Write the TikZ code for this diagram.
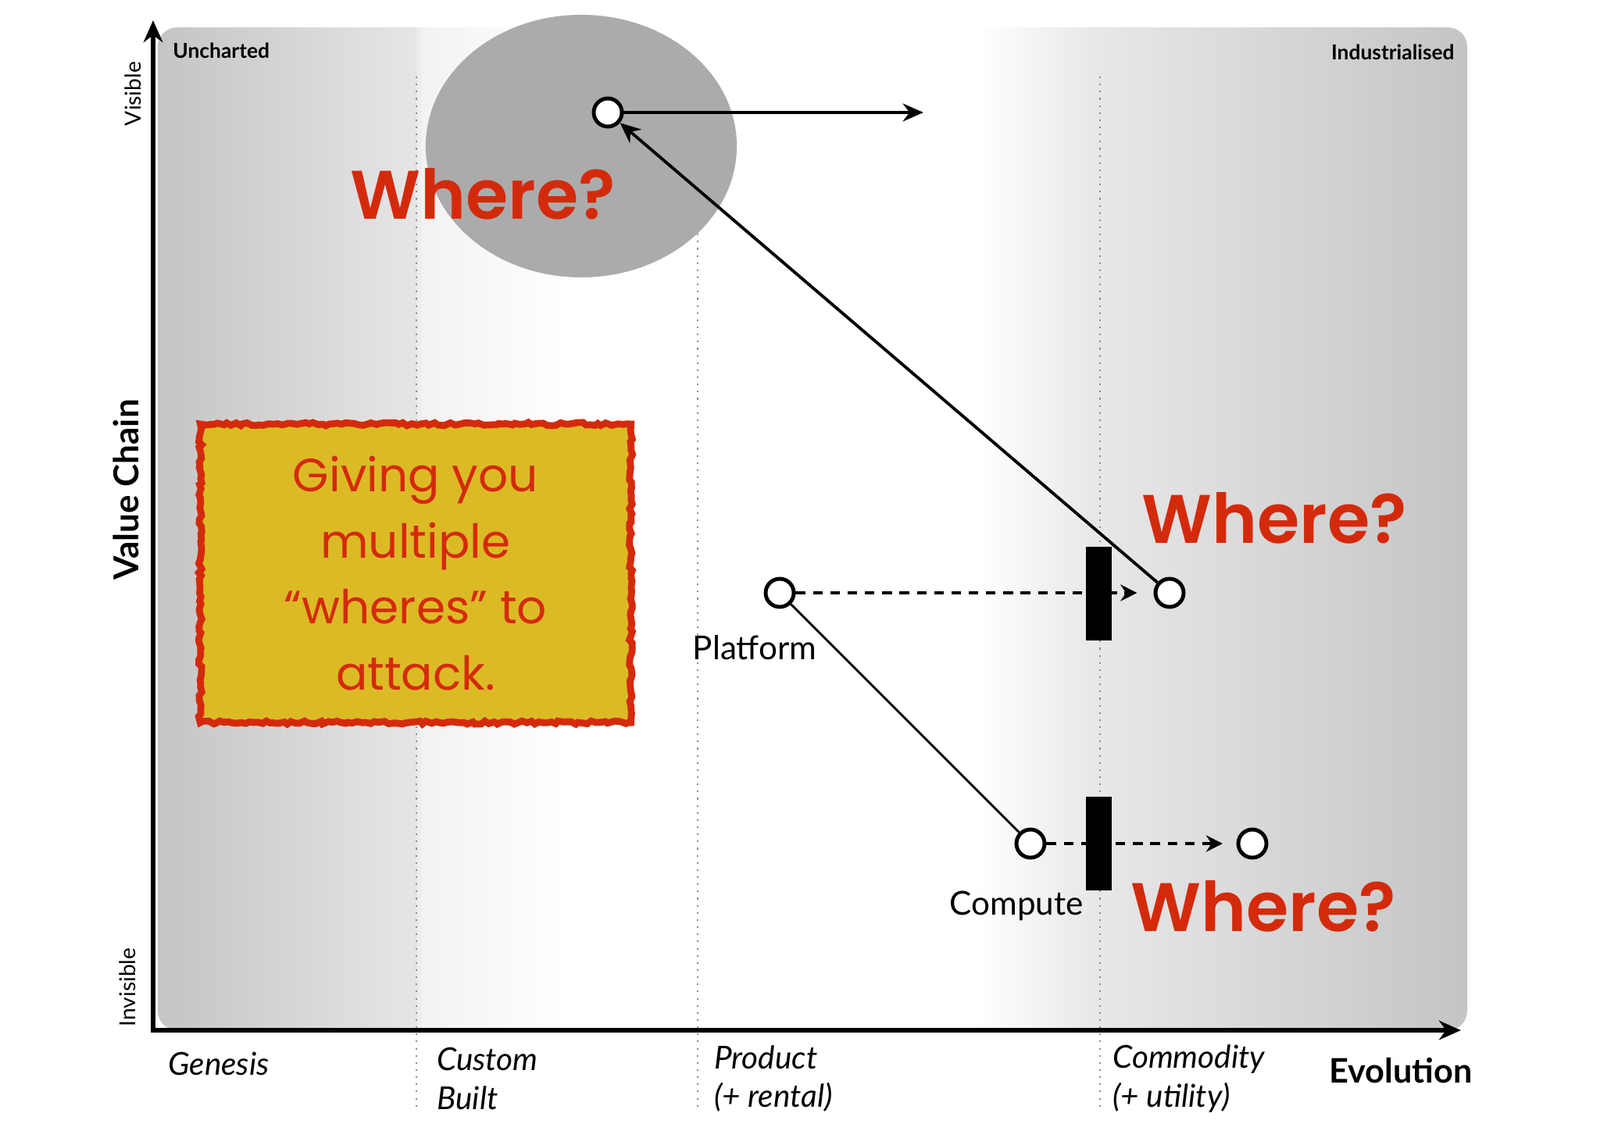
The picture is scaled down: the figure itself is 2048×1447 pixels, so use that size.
\documentclass[tikz,border=0pt]{standalone}
\usepackage{fontspec}
\setmainfont{Lato}
\newfontfamily\comicfont{Poppins}[BoldFont={Poppins SemiBold}]
\usetikzlibrary{arrows.meta, decorations.pathmorphing}
\definecolor{whereRed}{RGB}{212,42,12}
\definecolor{noteYellow}{RGB}{220,186,38}
\definecolor{blobGray}{RGB}{171,171,171}
\pgfdeclarehorizontalshading{evoshade}{100bp}{color(0bp)=(black!23); color(25bp)=(black!23);
  color(34.8bp)=(black!10); color(35.1bp)=(black!5); color(40.5bp)=(white); color(56.3bp)=(white);
  color(60.7bp)=(black!9); color(75bp)=(black!23); color(100bp)=(black!23)}
\tikzset{
  mapnode/.style={circle, draw=black, fill=white, line width=1.4pt, minimum size=0.36cm, inner sep=0pt},
  inertia/.style={fill=black, minimum width=0.33cm, minimum height=1.19cm, inner sep=0pt},
  where/.style={text=whereRed, font=\comicfont\bfseries\fontsize{25}{30}\selectfont},
  axis/.style={line width=1.5pt, {Stealth[length=8pt,width=7pt]}-{Stealth[length=8pt,width=7pt]}},
  stage/.style={black!45, dotted, line width=0.6pt},
  link/.style={line width=1.1pt, -{Stealth[length=7.5pt,width=6.5pt]}},
  evolve/.style={line width=1.4pt, dash pattern=on 3.5pt off 2.8pt, -{Stealth[length=6pt,width=6pt]}},
  lbl/.style={font=\fontsize{12}{14}\selectfont},
  phase/.style={font=\itshape\fontsize{11.5}{14}\selectfont, align=left, anchor=west},
  note/.style={draw=whereRed, line width=2.5pt, fill=noteYellow, decorate,
    decoration={random steps, segment length=1.5pt, amplitude=0.6pt},
    minimum width=5.51cm, minimum height=3.82cm, align=center, text=whereRed,
    font=\comicfont\fontsize{17}{24}\selectfont}
}
\begin{document}
\begin{tikzpicture}[x=0.01cm, y=-0.01cm]
\useasboundingbox (0,0) rectangle (2048,1447);
\shade[shading=evoshade, rounded corners=7pt] (202,35) rectangle (1878,1319);
\foreach \x in {533,893,1408}{
  \draw[stage] (\x,98) -- (\x,1417);
}
\fill[blobGray] (744,187) ellipse [x radius=1.99cm, y radius=1.68cm];

\coordinate (o) at (196,1319);
\coordinate (vtop) at (196,26);
\coordinate (eend) at (1870,1319);
\draw[axis] (vtop) -- (o) -- (eend);

\node[font=\bfseries\fontsize{7.5}{9}\selectfont, anchor=west] (unch) at (209,65) {Uncharted};
\node[font=\bfseries\fontsize{7.5}{9}\selectfont, anchor=east] (indu) at (1874,67) {Industrialised};
\node[font=\fontsize{8}{10}\selectfont, rotate=90] (vis) at (170,120) {Visible};
\node[font=\fontsize{8}{10}\selectfont, rotate=90] (invis) at (163,1264) {Invisible};
\node[font=\bfseries\fontsize{12.5}{14}\selectfont, rotate=90] (vchain) at (161,627) {Value Chain};
\node[phase] (gen) at (203,1362) {Genesis};
\node[phase] (cust) at (547,1381) {Custom\\Built};
\node[phase] (prod) at (902,1381) {Product\\(+ rental)};
\node[phase] (comm) at (1412,1381) {Commodity\\(+ utility)};
\node[font=\bfseries\fontsize{12.3}{14}\selectfont] (evo) at (1793,1371) {Evolution};

\node[note] (note) at (532,734) {Giving you\\multiple\\“wheres” to\\attack.};

\node[mapnode] (need) at (778,144) {};
\node[mapnode] (platU) at (1497,759) {};
\node[mapnode] (plat) at (998,759) {};
\node[mapnode] (comp) at (1319,1080) {};
\node[mapnode] (compU) at (1603,1080) {};
\coordinate (needgo) at (1182,144);

\draw[link] (need) -- (needgo);
\draw[link] (platU) -- (need);
\draw[line width=0.8pt] (plat) -- (comp);
\draw[evolve, shorten >=6pt] (plat) -- (platU);
\draw[evolve, shorten >=5pt] (comp) -- (compU);

\node[inertia] (platbar) at (1406,760) {};
\node[inertia] (compbar) at (1406,1080) {};

\node[lbl] (platlbl) at (966,829) {Platform};
\node[lbl] (complbl) at (1301,1160) {Compute};

\node[where] (where1) at (618,248) {Where?};
\node[where] (where2) at (1631,663) {Where?};
\node[where] (where3) at (1617,1160) {Where?};
\end{tikzpicture}
\end{document}
